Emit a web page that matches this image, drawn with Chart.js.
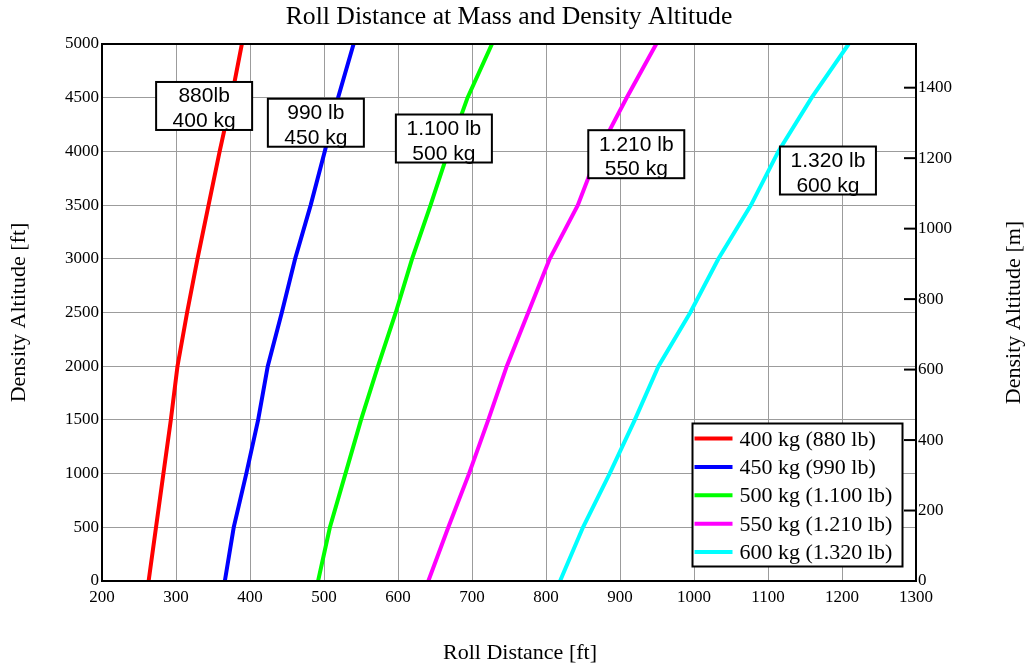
<!DOCTYPE html>
<html>
<head>
<meta charset="utf-8">
<script src="https://cdn.jsdelivr.net/npm/chart.js@4"></script>
<style>
  html, body { margin: 0; padding: 0; background: #ffffff; }
  #wrap { width: 1032px; height: 666px; position: relative; }
</style>
</head>
<body>
<div id="wrap"><canvas id="c"></canvas></div>
<script>
// ---- data ----
const altitudes = [0, 500, 1000, 1500, 2000, 2500, 3000, 3500, 4000, 4500, 5000];
const dist400 = [263, 273, 283, 293, 302, 315, 329, 344, 359, 375, 389];
const dist450 = [366, 378, 395, 411, 424, 443, 461, 482, 501, 519, 540];
const dist500 = [492, 508, 529, 550, 573, 597, 619, 644, 668, 694, 727];
const dist550 = [641, 668, 696, 722, 747, 776, 805, 843, 871, 909, 949];
const dist600 = [819, 850, 886, 920, 952, 995, 1033, 1077, 1114, 1159, 1209];
const seriesLabels = ['400 kg (880 lb)', '450 kg (990 lb)', '500 kg (1.100 lb)', '550 kg (1.210 lb)', '600 kg (1.320 lb)'];
const boxTexts = [['880lb', '400 kg'], ['990 lb', '450 kg'], ['1.100 lb', '500 kg'], ['1.210 lb', '550 kg'], ['1.320 lb', '600 kg']];
const xTicksRange = [200, 1300];
const yTicksRange = [0, 5000];
const chartTitle = 'Roll Distance at Mass and Density Altitude';
const xTitle = 'Roll Distance [ft]';
const yTitle = 'Density Altitude [ft]';
const y2Title = 'Density Altitude [m]';

// ---- presentation (positions / styles) ----
const seriesColors = ['#ff0000', '#0000ff', '#00ff00', '#ff00ff', '#00ffff'];
const boxAnchorX = [338, 489, 662, 922, 1181];   // data units (ft) of label box centres
const boxAnchorY = [4423, 4267, 4120, 3974, 3822];
const FT_TO_M = 0.3048;

const allSeries = [dist400, dist450, dist500, dist550, dist600];
const datasets = allSeries.map((arr, i) => ({
  label: seriesLabels[i],
  data: arr.map((d, k) => ({ x: d, y: altitudes[k] })),
  borderColor: seriesColors[i],
  backgroundColor: seriesColors[i],
  borderWidth: 4,
  pointRadius: 0,
  tension: 0,
  fill: false,
  yAxisID: 'y'
}));

Chart.defaults.font.family = '"Liberation Serif", "Times New Roman", serif';
Chart.defaults.color = '#000000';

const plainLabel = v => String(v);

const decor = {
  id: 'decor',
  afterDatasetsDraw(chart) {
    const { ctx, chartArea: a, scales } = chart;
    ctx.save();

    // frame
    ctx.strokeStyle = '#000000';
    ctx.lineWidth = 2;
    ctx.strokeRect(a.left, a.top, a.right - a.left, a.bottom - a.top);

    // right axis inner tick marks
    scales.y2.ticks.forEach(t => {
      const py = scales.y2.getPixelForValue(t.value);
      ctx.beginPath();
      ctx.moveTo(a.right - 12, py);
      ctx.lineTo(a.right, py);
      ctx.stroke();
    });

    // label boxes
    ctx.font = '21px "Liberation Sans", Arial, sans-serif';
    ctx.textAlign = 'center';
    ctx.textBaseline = 'alphabetic';
    boxTexts.forEach((lines, i) => {
      const cx = scales.x.getPixelForValue(boxAnchorX[i]);
      const cy = scales.y.getPixelForValue(boxAnchorY[i]);
      const w = 96, h = 48;
      ctx.fillStyle = '#ffffff';
      ctx.fillRect(cx - w / 2, cy - h / 2, w, h);
      ctx.fillStyle = '#000000';
      ctx.fillText(lines[0], cx, cy - 3.5);
      ctx.fillText(lines[1], cx, cy + 21);
      ctx.lineWidth = 2;
      ctx.strokeStyle = '#000000';
      ctx.strokeRect(cx - w / 2, cy - h / 2, w, h);
    });

    // legend
    const lw = 210, lh = 143;
    const lx = a.right - 13.5 - lw;
    const ly = a.bottom - 14.5 - lh;
    ctx.fillStyle = '#ffffff';
    ctx.fillRect(lx, ly, lw, lh);
    ctx.lineWidth = 2;
    ctx.strokeStyle = '#000000';
    ctx.strokeRect(lx, ly, lw, lh);
    ctx.font = '22px "Liberation Serif", "Times New Roman", serif';
    ctx.textAlign = 'left';
    ctx.textBaseline = 'alphabetic';
    chart.data.datasets.forEach((ds, i) => {
      const ry = ly + 15 + i * 28.4;
      ctx.strokeStyle = ds.borderColor;
      ctx.lineWidth = 4;
      ctx.beginPath();
      ctx.moveTo(lx + 2, ry);
      ctx.lineTo(lx + 40, ry);
      ctx.stroke();
      ctx.fillStyle = '#000000';
      ctx.fillText(ds.label, lx + 47, ry + 7);
    });

    // titles
    ctx.fillStyle = '#000000';
    ctx.textAlign = 'center';
    ctx.textBaseline = 'alphabetic';
    ctx.font = '25.7px "Liberation Serif", "Times New Roman", serif';
    ctx.fillText(chartTitle, (a.left + a.right) / 2, 24);
    ctx.font = '22px "Liberation Serif", "Times New Roman", serif';
    ctx.fillText(xTitle, 520, 659);

    const midY = (a.top + a.bottom) / 2;
    ctx.save();
    ctx.translate(25, midY);
    ctx.rotate(-Math.PI / 2);
    ctx.fillText(yTitle, 0, 0);
    ctx.restore();

    ctx.save();
    ctx.translate(1020, midY);
    ctx.rotate(-Math.PI / 2);
    ctx.fillText(y2Title, 0, 0);
    ctx.restore();

    ctx.restore();
  }
};

new Chart(document.getElementById('c'), {
  type: 'line',
  data: { datasets },
  options: {
    responsive: true,
    maintainAspectRatio: false,
    animation: false,
    layout: { padding: { top: 44, left: 0, right: 0, bottom: 0 } },
    plugins: {
      legend: { display: false },
      title: { display: false },
      tooltip: { enabled: false }
    },
    scales: {
      x: {
        type: 'linear',
        min: xTicksRange[0],
        max: xTicksRange[1],
        ticks: { stepSize: 100, font: { size: 17 }, color: '#000', padding: 6, maxRotation: 0, callback: plainLabel },
        grid: { color: '#9c9c9c', lineWidth: 1, drawTicks: false },
        border: { display: false },
        afterFit(s) { s.height = 85; }
      },
      y: {
        type: 'linear',
        position: 'left',
        min: yTicksRange[0],
        max: yTicksRange[1],
        ticks: { stepSize: 500, font: { size: 17 }, color: '#000', padding: 3, callback: plainLabel },
        grid: { color: '#9c9c9c', lineWidth: 1, drawTicks: false },
        border: { display: false },
        afterFit(s) { s.width = 102; }
      },
      y2: {
        type: 'linear',
        position: 'right',
        min: yTicksRange[0] * FT_TO_M,
        max: yTicksRange[1] * FT_TO_M,
        ticks: { stepSize: 200, font: { size: 17 }, color: '#000', padding: 2, callback: plainLabel },
        grid: { drawOnChartArea: false, drawTicks: false },
        border: { display: false },
        afterBuildTicks(s) { s.ticks = s.ticks.filter(t => Math.abs(t.value % 200) < 1e-6); },
        afterFit(s) { s.width = 116; }
      }
    }
  },
  plugins: [decor]
});
</script>
</body>
</html>
